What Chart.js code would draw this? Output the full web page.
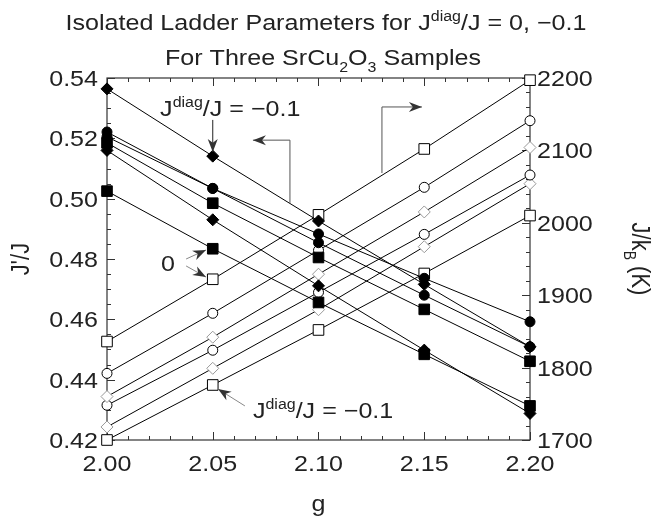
<!DOCTYPE html>
<html lang="en">
<head>
<meta charset="UTF-8">
<title>Isolated Ladder Parameters</title>
<script src="https://cdn.jsdelivr.net/npm/chart.js"></script>
<style>
  body { margin: 0; background: #fff; }
  #wrap { width: 657px; height: 523px; }
</style>
</head>
<body>
<div id="wrap"><canvas id="ladderChart" width="657" height="523"></canvas></div>
<script>
// g values (x axis)
const gValues = [2.00, 2.05, 2.10, 2.15, 2.20];

// J'/J (left axis) - filled markers
const jpDiamondA = [0.5364, 0.5141, 0.4926, 0.4716, 0.4509];
const jpCircleA  = [0.5221, 0.5034, 0.4854, 0.4680, 0.4509];
const jpCircleB  = [0.5205, 0.5034, 0.4883, 0.4736, 0.4592];
const jpSquareB  = [0.5185, 0.4985, 0.4805, 0.4633, 0.4461];
const jpDiamondB = [0.5160, 0.4930, 0.4711, 0.4498, 0.4288];
const jpSquareA  = [0.5025, 0.4834, 0.4656, 0.4484, 0.4313];

// J/kB in K (right axis) - open markers
const jkSquareA  = [1836, 1922, 2011, 2102, 2197];
const jkCircleA  = [1792, 1875, 1962, 2049, 2141];
const jkDiamondA = [1760, 1842, 1929, 2015, 2104];
const jkCircleB  = [1748, 1824, 1904, 1984, 2066];
const jkDiamondB = [1718, 1799, 1880, 1967, 2054];
const jkSquareB  = [1700, 1776, 1852, 1930, 2010];

// tick labels
const xTicks = [2.00, 2.05, 2.10, 2.15, 2.20];
const leftTicks = [0.42, 0.44, 0.46, 0.48, 0.50, 0.52, 0.54];
const rightTicks = [1700, 1800, 1900, 2000, 2100, 2200];

const FONT = '"Liberation Sans", Arial, sans-serif';
const FS = 22;     // main font size
const SX = 1.14;   // text in the original is a little wide

function pts(arr) { return gValues.map((g, i) => ({ x: g, y: arr[i] })); }

function series(arr, style, filled, axis, border) {
  return {
    data: pts(arr),
    yAxisID: axis,
    showLine: true,
    borderColor: '#000',
    borderWidth: 1,
    tension: 0,
    clip: false,
    pointStyle: style,
    pointRadius: style === 'rect' ? 7.5 : (style === 'rectRot' ? 6 : 5),
    pointBackgroundColor: filled ? '#000' : '#fff',
    pointBorderColor: border || '#000',
    pointBorderWidth: 1
  };
}

function richWidth(ctx, segs, fs) {
  let w = 0;
  for (const [t, k] of segs) {
    ctx.font = (k ? Math.round(fs * 0.65) : fs) + 'px ' + FONT;
    w += ctx.measureText(t).width;
  }
  return w;
}

// y = vertical centre of capitals
function drawRich(ctx, segs, x, y, align, rot, fs) {
  fs = fs || FS;
  ctx.save();
  ctx.translate(x, y);
  if (rot) { ctx.rotate(rot); ctx.scale(1, SX); } else { ctx.scale(SX, 1); }
  const w = richWidth(ctx, segs, fs);
  let cx = align === 'center' ? -w / 2 : (align === 'right' ? -w : 0);
  ctx.fillStyle = '#222';
  ctx.textBaseline = 'alphabetic';
  ctx.textAlign = 'left';
  for (const [t, k] of segs) {
    const size = k ? Math.round(fs * 0.65) : fs;
    ctx.font = size + 'px ' + FONT;
    const dy = k === 1 ? -0.42 * fs : (k === -1 ? 0.3 * fs : 0);
    ctx.fillText(t, cx, 0.36 * fs + dy);
    cx += ctx.measureText(t).width;
  }
  ctx.restore();
}

function arrowHead(ctx, x1, y1, x2, y2) {
  const a = Math.atan2(y2 - y1, x2 - x1);
  const L = 13, W = 5;
  ctx.save();
  ctx.translate(x2, y2);
  ctx.rotate(a);
  ctx.beginPath();
  ctx.moveTo(0, 0);
  ctx.lineTo(-L, -W);
  ctx.lineTo(-L * 0.7, 0);
  ctx.lineTo(-L, W);
  ctx.closePath();
  ctx.fillStyle = '#333';
  ctx.fill();
  ctx.restore();
}

function arrowPath(ctx, pts, color) {
  ctx.save();
  ctx.strokeStyle = color;
  ctx.lineWidth = 1;
  ctx.beginPath();
  ctx.moveTo(pts[0][0], pts[0][1]);
  for (let i = 1; i < pts.length; i++) ctx.lineTo(pts[i][0], pts[i][1]);
  ctx.stroke();
  ctx.restore();
  const n = pts.length;
  arrowHead(ctx, pts[n - 2][0], pts[n - 2][1], pts[n - 1][0], pts[n - 1][1]);
}

const framePlugin = {
  id: 'frame',
  beforeDatasetsDraw(chart) {
    const { ctx, chartArea: a, scales } = chart;
    ctx.save();
    ctx.strokeStyle = '#333';
    ctx.lineWidth = 1.2;
    ctx.strokeRect(a.left, a.top, a.right - a.left, a.bottom - a.top);
    ctx.lineWidth = 1;
    ctx.beginPath();
    // x ticks, bottom and top
    for (let v = 2.00; v <= 2.2001; v += 0.01) {
      const x = Math.round(scales.x.getPixelForValue(v)) + 0.5;
      const major = Math.abs(v * 20 - Math.round(v * 20)) < 1e-6;
      const len = major ? 8 : 4;
      ctx.moveTo(x, a.bottom); ctx.lineTo(x, a.bottom - len);
      ctx.moveTo(x, a.top); ctx.lineTo(x, a.top + len);
    }
    // left ticks
    for (let v = 0.42; v <= 0.5401; v += 0.005) {
      const y = Math.round(scales.y.getPixelForValue(v)) + 0.5;
      const major = Math.abs(v * 50 - Math.round(v * 50)) < 1e-6;
      ctx.moveTo(a.left, y); ctx.lineTo(a.left + (major ? 8 : 4), y);
    }
    // right ticks
    for (let v = 1700; v <= 2200; v += 20) {
      const y = Math.round(scales.y2.getPixelForValue(v)) + 0.5;
      const major = v % 100 === 0;
      ctx.moveTo(a.right, y); ctx.lineTo(a.right - (major ? 8 : 4), y);
    }
    ctx.stroke();
    ctx.restore();
  },
  afterDraw(chart) {
    const { ctx, chartArea: a, scales } = chart;
    const X = v => scales.x.getPixelForValue(v);
    const Y = v => scales.y.getPixelForValue(v);

    // tick labels
    xTicks.forEach(v => drawRich(ctx, [[v.toFixed(2), 0]], X(v), a.bottom + 23, 'center'));
    leftTicks.forEach(v => drawRich(ctx, [[v.toFixed(2), 0]], a.left - 9, Y(v), 'right'));
    rightTicks.forEach(v => drawRich(ctx, [[String(v), 0]], a.right + 7, scales.y2.getPixelForValue(v), 'left'));

    // axis titles
    drawRich(ctx, [['g', 0]], (a.left + a.right) / 2, 503, 'center');
    drawRich(ctx, [["J'/J", 0]], 20, (a.top + a.bottom) / 2, 'center', -Math.PI / 2);
    drawRich(ctx, [['J/k', 0], ['B', -1], [' (K)', 0]], 641, (a.top + a.bottom) / 2, 'center', Math.PI / 2);

    // title
    drawRich(ctx, [['Isolated Ladder Parameters for J', 0], ['diag', 1], ['/J = 0, \u22120.1', 0]], 326, 22, 'center');
    drawRich(ctx, [['For Three SrCu', 0], ['2', -1], ['O', 0], ['3', -1], [' Samples', 0]], 323, 57, 'center');

    // annotations
    const minus01 = [['J', 0], ['diag', 1], ['/J = \u22120.1', 0]];
    drawRich(ctx, minus01, X(2.0251), Y(0.5301), 'left');
    arrowPath(ctx, [[X(2.05), Y(0.5261)], [X(2.05), Y(0.5155)]], '#222');

    drawRich(ctx, [['0', 0]], X(2.0288), Y(0.4787), 'center');
    arrowPath(ctx, [[X(2.0374), Y(0.4800)], [X(2.0468), Y(0.4830)]], '#888');
    arrowPath(ctx, [[X(2.0374), Y(0.4777)], [X(2.0468), Y(0.4740)]], '#888');

    drawRich(ctx, minus01, X(2.069), Y(0.4300), 'left');
    arrowPath(ctx, [[X(2.0652), Y(0.4313)], [X(2.0525), Y(0.4369)]], '#888');

    arrowPath(ctx, [[X(2.0865), Y(0.4986)], [X(2.0865), Y(0.5194)], [X(2.069), Y(0.5194)]], '#555');
    arrowPath(ctx, [[X(2.1300), Y(0.5085)], [X(2.1300), Y(0.5304)], [X(2.1489), Y(0.5304)]], '#555');
  }
};

new Chart(document.getElementById('ladderChart'), {
  type: 'scatter',
  data: {
    datasets: [
      series(jpDiamondA, 'rectRot', true, 'y'),
      series(jpCircleA, 'circle', true, 'y'),
      series(jpCircleB, 'circle', true, 'y'),
      series(jpSquareB, 'rect', true, 'y'),
      series(jpDiamondB, 'rectRot', true, 'y'),
      series(jpSquareA, 'rect', true, 'y'),
      series(jkSquareA, 'rect', false, 'y2'),
      series(jkCircleA, 'circle', false, 'y2'),
      series(jkDiamondA, 'rectRot', false, 'y2', '#999'),
      series(jkCircleB, 'circle', false, 'y2'),
      series(jkDiamondB, 'rectRot', false, 'y2', '#999'),
      series(jkSquareB, 'rect', false, 'y2')
    ]
  },
  options: {
    responsive: false,
    animation: false,
    devicePixelRatio: 1,
    layout: { padding: { top: 78, left: 0, right: 0, bottom: 0 }, autoPadding: false },
    plugins: { legend: { display: false }, tooltip: { enabled: false } },
    scales: {
      x: {
        type: 'linear', min: 2.0, max: 2.2,
        ticks: { display: false, stepSize: 0.05 },
        grid: { display: false }, border: { display: false },
        afterFit: s => { s.height = 83; }
      },
      y: {
        position: 'left', min: 0.42, max: 0.54,
        ticks: { display: false, stepSize: 0.02 },
        grid: { display: false }, border: { display: false },
        afterFit: s => { s.width = 107; }
      },
      y2: {
        position: 'right', min: 1700, max: 2200,
        ticks: { display: false, stepSize: 100 },
        grid: { display: false }, border: { display: false },
        afterFit: s => { s.width = 127; }
      }
    }
  },
  plugins: [framePlugin]
});
</script>
</body>
</html>
